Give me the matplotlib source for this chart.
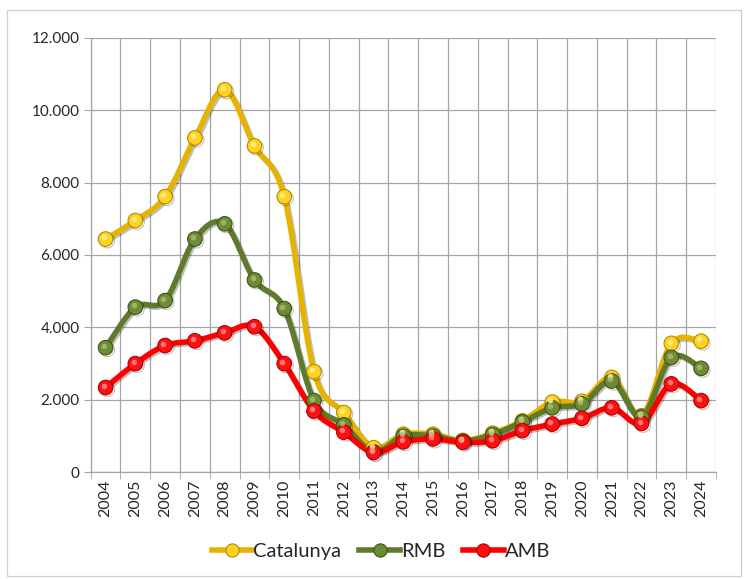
import numpy as np
import matplotlib
matplotlib.use("Agg")
import matplotlib.pyplot as plt
import matplotlib.patheffects as pe
from matplotlib.ticker import FuncFormatter, MultipleLocator
from matplotlib.lines import Line2D
from matplotlib.patches import Rectangle
from matplotlib.transforms import ScaledTranslation

# ── data ────────────────────────────────────────────────────────────
years = list(range(2004, 2025))

catalunya = [6440, 6950, 7610, 9230, 10560, 9010, 7610, 2780, 1650, 680,
             1050, 1050, 880, 1080, 1420, 1940, 1960, 2620, 1560, 3560, 3620]
rmb = [3440, 4560, 4740, 6440, 6860, 5310, 4520, 1980, 1310, 560,
       1000, 1000, 860, 1040, 1390, 1780, 1890, 2520, 1530, 3170, 2870]
amb = [2340, 3000, 3500, 3630, 3850, 4020, 3000, 1690, 1110, 550,
       840, 920, 830, 870, 1150, 1330, 1490, 1780, 1350, 2440, 1980]

series = [
    ("Catalunya", catalunya, "#E6B400", "#FFD21F", "#B38C00", "#FFF3A0"),
    ("RMB", rmb, "#5F7A2B", "#6E8B35", "#3F551A", "#A9BE7A"),
    ("AMB", amb, "#FF0000", "#FF1010", "#B00000", "#FF9090"),
]

GRID = "#A6A6A6"
TXT = "#262626"

plt.rcParams["font.family"] = ["Lato", "DejaVu Sans"]


def smooth(x, y, n=24):
    """Catmull-Rom por tramos, parecido al 'suavizado' de Excel."""
    x = np.asarray(x, float)
    y = np.asarray(y, float)
    px = np.concatenate([[x[0]], x, [x[-1]]])
    py = np.concatenate([[y[0]], y, [y[-1]]])
    xs, ys = [], []
    t = np.linspace(0, 1, n, endpoint=False)
    for i in range(1, len(px) - 2):
        p0x, p1x, p2x, p3x = px[i - 1:i + 3]
        p0y, p1y, p2y, p3y = py[i - 1:i + 3]
        c1x, c1y = p1x + (p2x - p0x) / 6, p1y + (p2y - p0y) / 6
        c2x, c2y = p2x - (p3x - p1x) / 6, p2y - (p3y - p1y) / 6
        b0, b1, b2, b3 = (1 - t) ** 3, 3 * t * (1 - t) ** 2, 3 * t ** 2 * (1 - t), t ** 3
        xs.append(b0 * p1x + b1 * c1x + b2 * c2x + b3 * p2x)
        ys.append(b0 * p1y + b1 * c1y + b2 * c2y + b3 * p2y)
    xs.append([x[-1]])
    ys.append([y[-1]])
    return np.concatenate(xs), np.concatenate(ys)


fig = plt.figure(figsize=(7.47, 5.79), dpi=100)
ax = fig.add_axes([0.1214, 0.1843, 0.8371, 0.7507])

idx = np.arange(len(years))
shadow = [pe.SimpleLineShadow(offset=(1.2, -1.2), alpha=0.25, shadow_color="black"), pe.Normal()]

for name, vals, lc, mc, ec, hc in series:
    sx, sy = smooth(idx, vals)
    ax.plot(sx, sy, color=lc, lw=4.0, solid_capstyle="round", zorder=3,
            path_effects=shadow)
    ax.plot(idx, vals, ls="none", marker="o", ms=10.5, mfc=mc, mec=ec,
            mew=0.8, zorder=4, path_effects=shadow)
    hl = ax.transData + ScaledTranslation(-1.3 / 72, 1.3 / 72, fig.dpi_scale_trans)
    ax.plot(idx, vals, ls="none", marker="o", ms=4, mfc=hc, mec="none",
            alpha=0.8, zorder=5, transform=hl)

ax.set_xlim(-0.5, len(years) - 0.5)
ax.set_ylim(0, 12000)
ax.yaxis.set_major_locator(MultipleLocator(2000))
ax.yaxis.set_major_formatter(FuncFormatter(lambda v, p: f"{int(v):,}".replace(",", ".")))
ax.set_xticks(idx)
ax.set_xticklabels([str(y) for y in years], rotation=90)
ax.set_xticks(np.arange(-0.5, len(years), 1), minor=True)

ax.grid(True, axis="y", which="major", color=GRID, lw=0.9)
ax.grid(True, axis="x", which="minor", color=GRID, lw=0.9)
ax.set_axisbelow(True)
ax.tick_params(axis="x", which="major", length=0, pad=5, labelsize=11.5, colors=TXT)
ax.tick_params(axis="x", which="minor", length=5, color=GRID, direction="out")
ax.tick_params(axis="y", length=5, color=GRID, labelsize=11, colors=TXT, pad=3)
ax.tick_params(axis="y", color=GRID)
for s in ["top", "right"]:
    ax.spines[s].set_visible(False)
for s in ["left", "bottom"]:
    ax.spines[s].set_color(GRID)
    ax.spines[s].set_linewidth(0.9)

handles = []
for name, vals, lc, mc, ec, hc in series:
    handles.append(Line2D([], [], color=lc, lw=4.0, marker="o", ms=9.5,
                          mfc=mc, mec=ec, mew=0.8, label=name))
fig.legend(handles=handles, loc="center", bbox_to_anchor=(0.51, 0.047),
           ncol=3, frameon=False, fontsize=14.5, handlelength=2.0,
           handletextpad=0.05, columnspacing=0.9, labelcolor=TXT)

fig.patches.append(Rectangle((0.0098, 0.005), 0.982, 0.978, transform=fig.transFigure,
                             fill=False, edgecolor="#D0D0D0", lw=0.9))

fig.savefig("out.png", dpi=100)
